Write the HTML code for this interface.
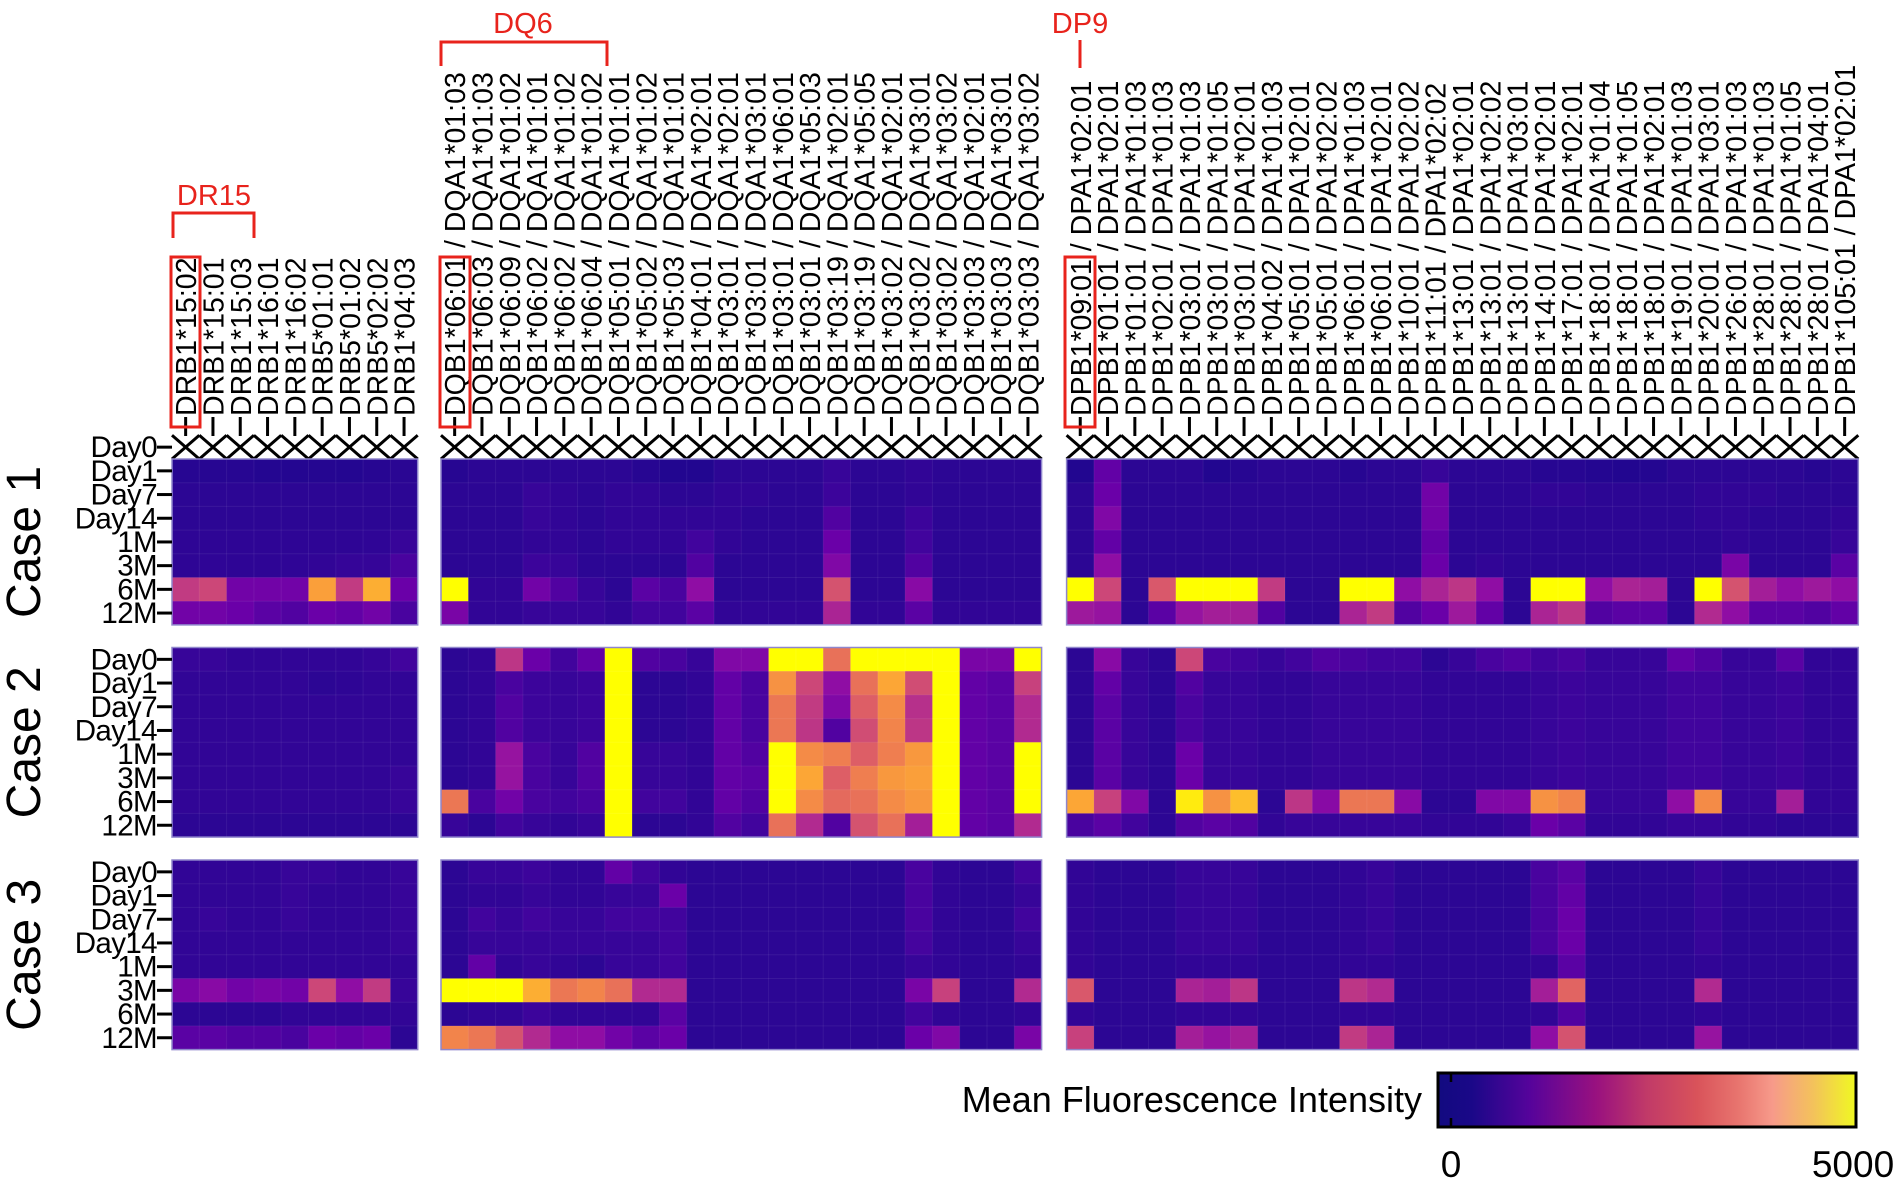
<!DOCTYPE html>
<html><head><meta charset="utf-8"><title>MFI heatmap</title>
<style>
html,body{margin:0;padding:0;background:#fff;}
svg{display:block;font-family:"Liberation Sans",Arial,sans-serif;}
</style></head>
<body>
<svg id="chart" width="1900" height="1184" viewBox="0 0 1900 1184" xmlns="http://www.w3.org/2000/svg">
<defs>
<linearGradient id="cbar" x1="0" x2="1" y1="0" y2="0">
<stop offset="0" stop-color="#120a80"/><stop offset="0.08" stop-color="#1a0888"/>
<stop offset="0.22" stop-color="#56039b"/><stop offset="0.38" stop-color="#99117f"/>
<stop offset="0.5" stop-color="#c13a68"/><stop offset="0.62" stop-color="#d9535a"/>
<stop offset="0.72" stop-color="#e8756f"/><stop offset="0.8" stop-color="#f79a8a"/>
<stop offset="0.9" stop-color="#f3c35a"/><stop offset="1" stop-color="#f0f921"/>
</linearGradient>
</defs>
<g id="cells"></g>
<g id="axes"></g>
<g id="annot">
<text x="214" y="205" font-size="29" fill="#e8231c" text-anchor="middle">DR15</text>
<path d="M173 238 V213 H254 V238" fill="none" stroke="#e8231c" stroke-width="3"/>
<text x="523" y="33" font-size="29" fill="#e8231c" text-anchor="middle">DQ6</text>
<path d="M441 66 V42 H607 V66" fill="none" stroke="#e8231c" stroke-width="3"/>
<text x="1080" y="33" font-size="29" fill="#e8231c" text-anchor="middle">DP9</text>
<line x1="1080" y1="40" x2="1080" y2="68" stroke="#e8231c" stroke-width="3"/>
<rect x="171" y="257" width="29" height="170" fill="none" stroke="#e8231c" stroke-width="3"/>
<rect x="440" y="257" width="30" height="170" fill="none" stroke="#e8231c" stroke-width="3"/>
<rect x="1065" y="257" width="30" height="170" fill="none" stroke="#e8231c" stroke-width="3"/>
</g>
<g id="legend">
<text x="1422" y="1112" font-size="36" text-anchor="end">Mean Fluorescence Intensity</text>
<rect x="1438" y="1073" width="418" height="54" fill="url(#cbar)" stroke="#000" stroke-width="3"/>
<line x1="1451" y1="1074" x2="1451" y2="1082" stroke="#000" stroke-width="2.5"/>
<line x1="1451" y1="1118" x2="1451" y2="1126" stroke="#000" stroke-width="2.5"/>
<text x="1451" y="1177" font-size="37" text-anchor="middle">0</text>
<text x="1853" y="1177" font-size="37" text-anchor="middle">5000</text>
</g>
</svg>
<script>
const timeLabels = ["Day0","Day1","Day7","Day14","1M","3M","6M","12M"];
const caseLabels = ["Case 1","Case 2","Case 3"];
const drLabels = ["DRB1*15:02","DRB1*15:01","DRB1*15:03","DRB1*16:01","DRB1*16:02","DRB5*01:01","DRB5*01:02","DRB5*02:02","DRB1*04:03"];
const dqLabels = ["DQB1*06:01 / DQA1*01:03","DQB1*06:03 / DQA1*01:03","DQB1*06:09 / DQA1*01:02","DQB1*06:02 / DQA1*01:01","DQB1*06:02 / DQA1*01:02","DQB1*06:04 / DQA1*01:02","DQB1*05:01 / DQA1*01:01","DQB1*05:02 / DQA1*01:02","DQB1*05:03 / DQA1*01:01","DQB1*04:01 / DQA1*02:01","DQB1*03:01 / DQA1*02:01","DQB1*03:01 / DQA1*03:01","DQB1*03:01 / DQA1*06:01","DQB1*03:01 / DQA1*05:03","DQB1*03:19 / DQA1*02:01","DQB1*03:19 / DQA1*05:05","DQB1*03:02 / DQA1*02:01","DQB1*03:02 / DQA1*03:01","DQB1*03:02 / DQA1*03:02","DQB1*03:03 / DQA1*02:01","DQB1*03:03 / DQA1*03:01","DQB1*03:03 / DQA1*03:02"];
const dpLabels = ["DPB1*09:01 / DPA1*02:01","DPB1*01:01 / DPA1*02:01","DPB1*01:01 / DPA1*01:03","DPB1*02:01 / DPA1*01:03","DPB1*03:01 / DPA1*01:03","DPB1*03:01 / DPA1*01:05","DPB1*03:01 / DPA1*02:01","DPB1*04:02 / DPA1*01:03","DPB1*05:01 / DPA1*02:01","DPB1*05:01 / DPA1*02:02","DPB1*06:01 / DPA1*01:03","DPB1*06:01 / DPA1*02:01","DPB1*10:01 / DPA1*02:02","DPB1*11:01 / DPA1*02:02","DPB1*13:01 / DPA1*02:01","DPB1*13:01 / DPA1*02:02","DPB1*13:01 / DPA1*03:01","DPB1*14:01 / DPA1*02:01","DPB1*17:01 / DPA1*02:01","DPB1*18:01 / DPA1*01:04","DPB1*18:01 / DPA1*01:05","DPB1*18:01 / DPA1*02:01","DPB1*19:01 / DPA1*01:03","DPB1*20:01 / DPA1*03:01","DPB1*26:01 / DPA1*01:03","DPB1*28:01 / DPA1*01:03","DPB1*28:01 / DPA1*01:05","DPB1*28:01 / DPA1*04:01","DPB1*105:01 / DPA1*02:01"];

// Column-major: each inner array = [Day0, Day1, Day7, Day14, 1M, 3M, 6M, 12M]; null = not tested
const case1DR = [[null,250,300,300,320,320,2300,1100],[null,250,300,300,320,330,2500,1100],[null,250,300,300,320,320,1100,1000],[null,220,300,300,320,320,1100,800],[null,220,300,300,320,330,1100,700],[null,230,300,300,320,350,3900,1000],[null,220,300,300,320,380,2300,900],[null,250,300,300,330,380,4100,1100],[null,280,300,300,400,600,1000,600]];
const case1DQ = [[null,250,300,300,300,300,5000,1200],[null,300,300,300,300,300,350,350],[null,300,300,300,300,300,350,350],[null,300,400,400,350,450,1100,400],[null,300,350,350,350,400,700,400],[null,300,300,300,300,300,400,400],[null,300,350,350,350,300,300,350],[null,250,350,350,350,300,800,500],[null,200,300,350,350,300,600,500],[null,200,300,350,500,700,1500,800],[null,300,350,350,350,300,300,350],[null,300,350,300,300,300,300,350],[null,300,300,300,300,300,300,350],[null,300,300,300,300,300,300,350],[null,400,450,700,1000,1300,2700,1900],[null,300,300,300,300,300,300,350],[null,300,300,300,300,300,300,350],[null,350,350,450,500,700,1400,800],[null,300,300,300,300,300,300,350],[null,300,300,300,300,300,300,350],[null,300,300,300,300,300,300,350],[null,300,300,300,300,300,300,350]];
const case1DP = [[null,200,300,300,300,300,5000,1700],[null,900,1000,1300,900,1500,2500,1600],[null,300,300,300,300,300,300,300],[null,300,300,300,300,300,2800,800],[null,300,300,300,300,300,5000,1600],[null,200,300,300,300,300,5000,1800],[null,250,300,300,300,300,5000,1800],[null,300,300,300,300,300,2300,700],[null,300,300,300,300,300,300,300],[null,300,300,300,300,300,300,300],[null,250,300,300,300,300,5000,1900],[null,300,300,300,300,300,5000,2300],[null,300,300,300,300,300,1500,700],[null,400,1100,1100,900,1000,1900,1000],[null,300,300,300,300,300,2200,1700],[null,300,300,300,300,350,1500,900],[null,300,300,300,300,300,300,300],[null,250,350,300,300,300,5000,1900],[null,250,350,300,300,300,5000,2200],[null,220,300,300,300,300,1500,700],[null,200,300,300,300,300,1900,800],[null,220,300,300,300,300,1800,800],[null,300,300,300,300,300,300,300],[null,300,350,350,300,300,5000,2000],[null,300,350,350,350,1200,2700,1500],[null,300,350,300,300,300,1800,800],[null,300,300,300,300,300,1500,800],[null,250,300,300,300,300,1700,700],[null,300,300,350,400,800,1500,900]];

const case2DR = [[400,350,350,350,350,350,350,300],[400,350,350,350,350,350,350,300],[350,350,350,350,350,350,350,300],[350,350,350,350,350,350,350,300],[350,350,350,350,350,350,350,300],[350,300,350,350,350,350,350,300],[350,320,350,350,350,350,350,300],[380,350,350,350,350,350,350,300],[500,350,350,350,350,400,400,300]];
const case2DQ = [[300,300,300,300,300,300,3300,400],[350,350,350,350,350,350,600,300],[2200,600,700,700,1600,1600,1100,500],[1000,450,450,450,600,600,600,400],[500,400,400,400,400,400,500,350],[900,450,450,450,700,700,600,400],[5000,5000,5000,5000,5000,5000,5000,5000],[700,300,300,300,400,400,500,300],[600,300,300,300,400,400,500,300],[400,350,350,350,350,350,350,350],[1300,900,900,900,900,900,900,700],[1300,600,600,600,700,800,700,500],[5000,3700,3300,3300,5000,5000,5000,3200],[5000,2500,2300,2200,3600,4000,3600,2000],[3200,1500,1300,700,3400,2900,3100,700],[5000,3200,2900,2600,2900,3400,3200,2700],[5000,4000,3600,3500,3400,3800,3600,3200],[5000,2600,2100,2200,3800,3900,3800,1800],[5000,5000,5000,5000,5000,5000,5000,5000],[1200,900,900,900,900,900,900,900],[1200,800,800,800,800,800,800,800],[5000,2400,2000,2000,5000,5000,5000,2000]];
const case2DP = [[300,300,300,300,300,300,4000,600],[1400,900,800,800,800,800,2400,800],[400,400,400,400,400,400,1300,500],[300,300,300,300,300,300,300,300],[2500,700,600,600,1000,1000,4800,700],[600,400,400,400,400,400,3700,800],[500,400,400,400,400,400,4300,700],[400,350,350,350,350,350,300,350],[500,350,350,350,350,350,2200,400],[700,400,400,400,400,400,1400,400],[600,400,400,400,400,400,3300,400],[500,400,400,400,400,400,3300,400],[500,400,400,400,400,400,1400,400],[300,350,350,350,350,350,300,350],[400,350,350,350,350,350,300,350],[600,350,350,350,350,350,1300,350],[700,350,350,350,350,350,1300,400],[500,400,400,400,400,400,3700,1000],[600,450,450,450,450,450,3500,800],[400,400,400,400,400,400,400,350],[400,400,400,400,400,400,400,350],[400,400,400,400,400,400,400,350],[900,500,500,500,500,500,1500,400],[700,500,500,500,500,500,3600,400],[400,400,400,400,400,400,400,350],[400,400,400,400,400,400,400,350],[800,450,450,450,450,450,1800,300],[350,350,350,350,350,350,350,300],[350,350,350,350,350,350,350,300]];

const case3DR = [[350,350,350,350,350,1200,300,800],[350,350,400,350,350,1400,300,800],[350,350,350,350,350,1100,300,700],[350,350,350,350,350,1200,300,700],[400,400,400,350,350,1100,350,600],[400,350,350,350,350,2500,350,1000],[350,350,350,350,350,1500,350,900],[350,350,350,350,350,2300,350,1000],[400,400,400,400,350,400,350,300]];
const case3DQ = [[300,300,300,300,300,5000,300,3500],[400,350,500,400,900,5000,350,3300],[400,350,400,400,350,5000,350,2700],[450,400,500,400,400,4100,450,2000],[350,350,400,400,350,3300,350,1500],[350,350,400,400,300,3500,350,1500],[900,400,500,400,400,3200,350,1100],[500,400,500,400,400,2000,350,800],[350,1000,500,500,500,2000,800,1000],[300,300,300,300,300,300,300,300],[300,300,300,300,300,300,300,300],[300,300,300,300,300,300,300,300],[300,300,300,300,300,300,300,300],[300,300,300,300,300,300,300,300],[300,300,300,300,300,300,300,300],[300,300,300,300,300,300,300,300],[300,300,300,300,300,300,300,300],[600,600,600,550,400,1200,500,1000],[350,350,350,350,350,2400,350,1300],[300,300,300,300,300,300,300,300],[300,300,300,300,300,300,300,300],[500,400,500,400,350,2000,350,1200]];
const case3DP = [[350,350,350,350,350,2800,350,2400],[300,300,300,300,300,300,300,300],[300,300,300,300,300,300,300,300],[300,300,300,300,300,300,300,300],[400,400,400,400,350,1900,350,1800],[400,400,400,400,350,1800,350,1600],[400,400,400,400,350,2200,350,1800],[300,300,300,300,300,300,300,300],[300,300,300,300,300,300,300,300],[300,300,300,300,300,300,300,300],[350,350,350,350,350,2200,350,2300],[400,400,400,400,350,2000,350,1900],[300,300,300,300,300,300,300,300],[300,300,300,300,300,300,300,300],[300,300,300,300,300,300,300,300],[300,300,300,300,300,300,300,300],[300,300,300,300,300,300,300,300],[600,600,600,600,350,1800,350,1500],[800,900,1000,1000,800,3000,700,2700],[300,300,300,300,300,300,300,300],[300,300,300,300,300,300,300,300],[300,300,300,300,300,300,300,300],[300,300,300,300,300,300,300,300],[400,400,400,400,350,2000,350,1600],[300,300,300,300,300,300,300,300],[300,300,300,300,300,300,300,300],[300,300,300,300,300,300,300,300],[300,300,300,300,300,300,300,300],[300,300,300,300,300,300,300,300]];

const colorMax = 5000;

const NS = "http://www.w3.org/2000/svg";
const CW = 27.3, RH = 23.7;
const panelX = [172, 441, 1066.6];
const caseY = [435.3, 647.5, 860];
const panelLabels = [drLabels, dqLabels, dpLabels];
const panelNames = ["dr","dq","dp"];
const caseData = [[case1DR, case1DQ, case1DP],[case2DR, case2DQ, case2DP],[case3DR, case3DQ, case3DP]];

const plasma = [[13,8,135],[65,4,157],[106,0,168],[143,13,164],[177,42,144],[204,71,120],[225,100,98],[242,132,75],[252,166,54],[254,206,37],[255,255,0]];
function colorOf(v){
  let t = Math.max(0, Math.min(1, v / colorMax));
  const p = t * (plasma.length - 1);
  const i = Math.min(plasma.length - 2, Math.floor(p));
  const f = p - i;
  const a = plasma[i], b = plasma[i+1];
  const c = a.map((x,k)=>Math.round(x + (b[k]-x)*f));
  return "rgb(" + c.join(",") + ")";
}
function xScale(panel, col){ return panelX[panel] + col * CW; }
function yScale(cs, row){ return caseY[cs] + row * RH; }
function mk(tag, attrs, parent){
  const el = document.createElementNS(NS, tag);
  for (const k in attrs) el.setAttribute(k, attrs[k]);
  parent.appendChild(el);
  return el;
}
const cellsG = document.getElementById("cells");
const axesG = document.getElementById("axes");

for (let cs = 0; cs < 3; cs++){
  for (let p = 0; p < 3; p++){
    const data = caseData[cs][p];
    const firstRow = cs === 0 ? 1 : 0;
    const nCols = panelLabels[p].length;
    for (let c = 0; c < nCols; c++){
      const col = data[c];
      for (let r = 0; r < 8; r++){
        const v = col[r];
        const x = xScale(p, c), y = yScale(cs, r);
        if (v === null || v === undefined){
          const g = mk("g", {}, cellsG);
          
          
          mk("line", {x1:x, y1:y, x2:x+CW, y2:y+RH, stroke:"#000", "stroke-width":3}, g);
          mk("line", {x1:x+CW, y1:y, x2:x, y2:y+RH, stroke:"#000", "stroke-width":3}, g);
          continue;
        }
        const rc = mk("rect", {x:x, y:y, width:CW+0.4, height:RH+0.4, fill:colorOf(v)}, cellsG);
        
        
      }
      if (c > 0){
        const gl = mk("line", {x1:xScale(p,c), y1:yScale(cs,firstRow), x2:xScale(p,c), y2:yScale(cs,8), stroke:"rgba(255,255,255,0.07)", "stroke-width":1}, cellsG);
        
        
      }
    }
    for (let r = firstRow + 1; r < 8; r++){
      const gl = mk("line", {x1:xScale(p,0), y1:yScale(cs,r), x2:xScale(p,nCols), y2:yScale(cs,r), stroke:"rgba(255,255,255,0.07)", "stroke-width":1}, cellsG);
      
      
    }
    const border = mk("rect", {x:xScale(p,0), y:yScale(cs,firstRow), width:nCols*CW, height:(8-firstRow)*RH, fill:"none", stroke:"#8f86cc", "stroke-width":1.5}, cellsG);
    
    
  }
  for (let r = 0; r < 8; r++){
    const cy = yScale(cs, r) + RH/2;
    const t = mk("text", {x:157, y:cy+10, "font-size":29.5, "text-anchor":"end", "letter-spacing":"-0.6"}, axesG);
    t.textContent = timeLabels[r];
    
    
    const tk = mk("line", {x1:157, y1:cy, x2:172, y2:cy, stroke:"#000", "stroke-width":3}, axesG);
    
    
  }
  const cyc = cs === 0 ? yScale(0,1) + 3.5*RH : yScale(cs,0) + 4*RH;
  const ct = mk("text", {x:0, y:0, "font-size":48, "text-anchor":"middle", transform:"translate(40," + cyc + ") rotate(-90)"}, axesG);
  ct.textContent = caseLabels[cs];
  
  
}
for (let p = 0; p < 3; p++){
  panelLabels[p].forEach((lab, c) => {
    const cx = xScale(p, c) + CW/2;
    const t = mk("text", {x:0, y:0, "font-size":28.5, "text-anchor":"start", transform:"translate(" + (cx+10.5) + ",416) rotate(-90)"}, axesG);
    t.textContent = lab;
    
    
    const tk = mk("line", {x1:cx, y1:417, x2:cx, y2:436, stroke:"#000", "stroke-width":3}, axesG);
    
    
  });
}
</script>
</body></html>
